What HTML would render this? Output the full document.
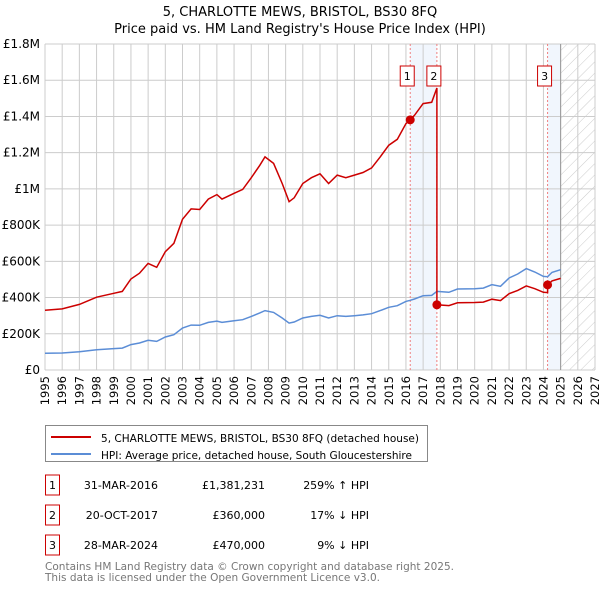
<!DOCTYPE html>
<html><head><meta charset="utf-8"><style>
body{margin:0;background:#fff;font-family:"Liberation Sans","DejaVu Sans",sans-serif;}
svg text{font-family:"DejaVu Sans","Liberation Sans",sans-serif;}
</style></head><body>
<svg id="c" width="600" height="590" xmlns="http://www.w3.org/2000/svg">
<defs><pattern id="hatch" width="8" height="8" patternUnits="userSpaceOnUse" patternTransform="rotate(45)"><line x1="0" y1="0" x2="0" y2="8" stroke="#ccc" stroke-width="1"/></pattern></defs>
<text x="300" y="16" text-anchor="middle" font-size="13">5, CHARLOTTE MEWS, BRISTOL, BS30 8FQ</text>
<text x="300" y="33" text-anchor="middle" font-size="13">Price paid vs. HM Land Registry's House Price Index (HPI)</text>
<g id="plot"></g>
<g>
<rect x="45.5" y="425.5" width="382" height="36" fill="#fff" stroke="#888"/>
<line x1="51" y1="437" x2="91" y2="437" stroke="#cc0000" stroke-width="2"/>
<text x="101" y="442" font-size="11" textLength="318" lengthAdjust="spacingAndGlyphs">5, CHARLOTTE MEWS, BRISTOL, BS30 8FQ (detached house)</text>
<line x1="51" y1="454" x2="91" y2="454" stroke="#5b8dd6" stroke-width="2"/>
<text x="101" y="459" font-size="11" textLength="311" lengthAdjust="spacingAndGlyphs">HPI: Average price, detached house, South Gloucestershire</text>
</g>
<g id="table" font-size="11"></g>
<text x="45" y="570" font-size="11" fill="#777" textLength="409" lengthAdjust="spacingAndGlyphs">Contains HM Land Registry data © Crown copyright and database right 2025.</text>
<text x="45" y="581" font-size="11" fill="#777" textLength="335" lengthAdjust="spacingAndGlyphs">This data is licensed under the Open Government Licence v3.0.</text>
</svg>
<script>
const hpiYears=[1995,1996,1997,1998,1999,1999.5,2000,2000.5,2001,2001.5,2002,2002.5,2003,2003.5,2004,2004.5,2005,2005.3,2006,2006.5,2007,2007.5,2007.8,2008.3,2008.8,2009.2,2009.5,2010,2010.5,2011,2011.5,2012,2012.5,2013,2013.5,2014,2014.5,2015,2015.5,2016,2016.25,2016.5,2017,2017.5,2017.8,2018.5,2019,2020,2020.5,2021,2021.5,2022,2022.5,2023,2023.5,2024,2024.24,2024.5,2025];
const hpiValues=[92000,94000,101000,112000,118000,121000,140000,149000,164000,158000,182000,195000,232000,248000,247000,263000,270000,263000,272000,278000,296000,315000,328000,318000,287000,259000,265000,287000,296000,302000,287000,300000,296000,300000,304000,311000,328000,346000,355000,379000,385000,392000,410000,412000,434000,429000,447000,449000,452000,471000,462000,508000,530000,560000,541000,517000,515000,539000,554000];
const saleYears=[2016.25,2017.8,2024.24];
const salePrices=[1381231,360000,470000];
const saleLabels=["1","2","3"];
const saleDates=["31-MAR-2016","20-OCT-2017","28-MAR-2024"];
const salePriceText=["£1,381,231","£360,000","£470,000"];
const saleHpiText=["259% ↑ HPI","17% ↓ HPI","9% ↓ HPI"];
const yTicks=[0,200000,400000,600000,800000,1000000,1200000,1400000,1600000,1800000];
const yTickLabels=["£0","£200K","£400K","£600K","£800K","£1M","£1.2M","£1.4M","£1.6M","£1.8M"];
const xTicks=[1995,1996,1997,1998,1999,2000,2001,2002,2003,2004,2005,2006,2007,2008,2009,2010,2011,2012,2013,2014,2015,2016,2017,2018,2019,2020,2021,2022,2023,2024,2025,2026,2027];

const NS="http://www.w3.org/2000/svg";
const L=45,R=595,T=44,B=370,X0=1995,X1=2027,YMAX=1800000,DATA_END=2025;
const X=v=>L+(v-X0)/(X1-X0)*(R-L);
const Y=v=>B-v/YMAX*(B-T);
const plot=document.getElementById('plot');
function mk(tag,attrs,parent){const e=document.createElementNS(NS,tag);for(const k in attrs)e.setAttribute(k,attrs[k]);(parent||plot).appendChild(e);return e;}
function hpiAt(t){for(let i=1;i<hpiYears.length;i++){if(t<=hpiYears[i]){const a=hpiYears[i-1],b=hpiYears[i];return hpiValues[i-1]+(hpiValues[i]-hpiValues[i-1])*(t-a)/(b-a);}}return hpiValues[hpiValues.length-1];}

for(let i=0;i<saleYears.length;i+=2){
  const s=saleYears[i], e=i+1<saleYears.length?saleYears[i+1]:DATA_END;
  const r=mk('rect',{x:X(s),y:T,width:X(e)-X(s),height:B-T,fill:'#eef4fd',opacity:0.8});
  
  
}
const h=mk('rect',{x:X(DATA_END),y:T,width:R-X(DATA_END),height:B-T,fill:'url(#hatch)'});


xTicks.forEach((t,i)=>{
  const g=mk('line',{x1:X(t),y1:T,x2:X(t),y2:B,stroke:'#ccc','stroke-width':1});
  
  
  const tx=mk('text',{x:0,y:0,'font-size':11.5,'text-anchor':'end',transform:`translate(${X(t)+4},${B+6}) rotate(-90)`});
  tx.textContent=t;
  
  
});
yTicks.forEach((v,i)=>{
  const g=mk('line',{x1:L,y1:Y(v),x2:R,y2:Y(v),stroke:'#ccc','stroke-width':1});
  
  
  const tx=mk('text',{x:40,y:Y(v)+4,'font-size':12,'text-anchor':'end'});
  tx.textContent=yTickLabels[i];
  
  
});
const dl=mk('line',{x1:X(DATA_END),y1:T,x2:X(DATA_END),y2:B,stroke:'#999','stroke-width':1});


saleYears.forEach(s=>{
  const l=mk('line',{x1:X(s),y1:T,x2:X(s),y2:B,stroke:'#f08080','stroke-width':1,'stroke-dasharray':'2,2'});
  
  
});
let d='';
hpiYears.forEach((t,i)=>{d+=(i?'L':'M')+X(t).toFixed(1)+','+Y(hpiValues[i]).toFixed(1);});
const hp=mk('path',{d:d,fill:'none',stroke:'#5b8dd6','stroke-width':1.5});


const times=[...new Set(hpiYears.concat(saleYears))].sort((a,b)=>a-b);
let pd='';
times.forEach((t,i)=>{
  let k=0;for(let j=0;j<saleYears.length;j++)if(t>=saleYears[j])k=j;
  const pts=[];
  const ratio=salePrices[k]/hpiAt(saleYears[k]);
  if(i>0&&saleYears.includes(t)&&saleYears.indexOf(t)>0){
    const kp=saleYears.indexOf(t)-1;pts.push(hpiAt(t)*salePrices[kp]/hpiAt(saleYears[kp]));
  }
  pts.push(hpiAt(t)*ratio);
  pts.forEach(v=>{pd+=(pd?'L':'M')+X(t).toFixed(1)+','+Y(v).toFixed(1);});
});
const pp=mk('path',{d:pd,fill:'none',stroke:'#cc0000','stroke-width':1.5});


saleYears.forEach((s,i)=>{
  const c=mk('circle',{cx:X(s),cy:Y(salePrices[i]),r:4.5,fill:'#cc0000'});
  
  
  const bx=X(s)-10;
  const r=mk('rect',{x:bx,y:66,width:14,height:20,fill:'#fff',stroke:'#cc0000','stroke-width':1});
  
  
  const tx=mk('text',{x:bx+7,y:80,'font-size':11,'text-anchor':'middle'});
  tx.textContent=saleLabels[i];
  
  
});
const tb=document.getElementById('table');
saleYears.forEach((s,i)=>{
  const y=485+i*30;
  const r=mk('rect',{x:45.5,y:y-10,width:14,height:20,fill:'#fff',stroke:'#cc0000'},tb);
  
  
  const cells=[[52.5,'middle',saleLabels[i]],[158,'end',saleDates[i]],[265,'end',salePriceText[i]],[369,'end',saleHpiText[i]]];
  cells.forEach((c,j)=>{
    const t=mk('text',{x:c[0],y:y+4,'text-anchor':c[1]},tb);
    t.textContent=c[2];
    
    
  });
});
</script>
</body></html>
